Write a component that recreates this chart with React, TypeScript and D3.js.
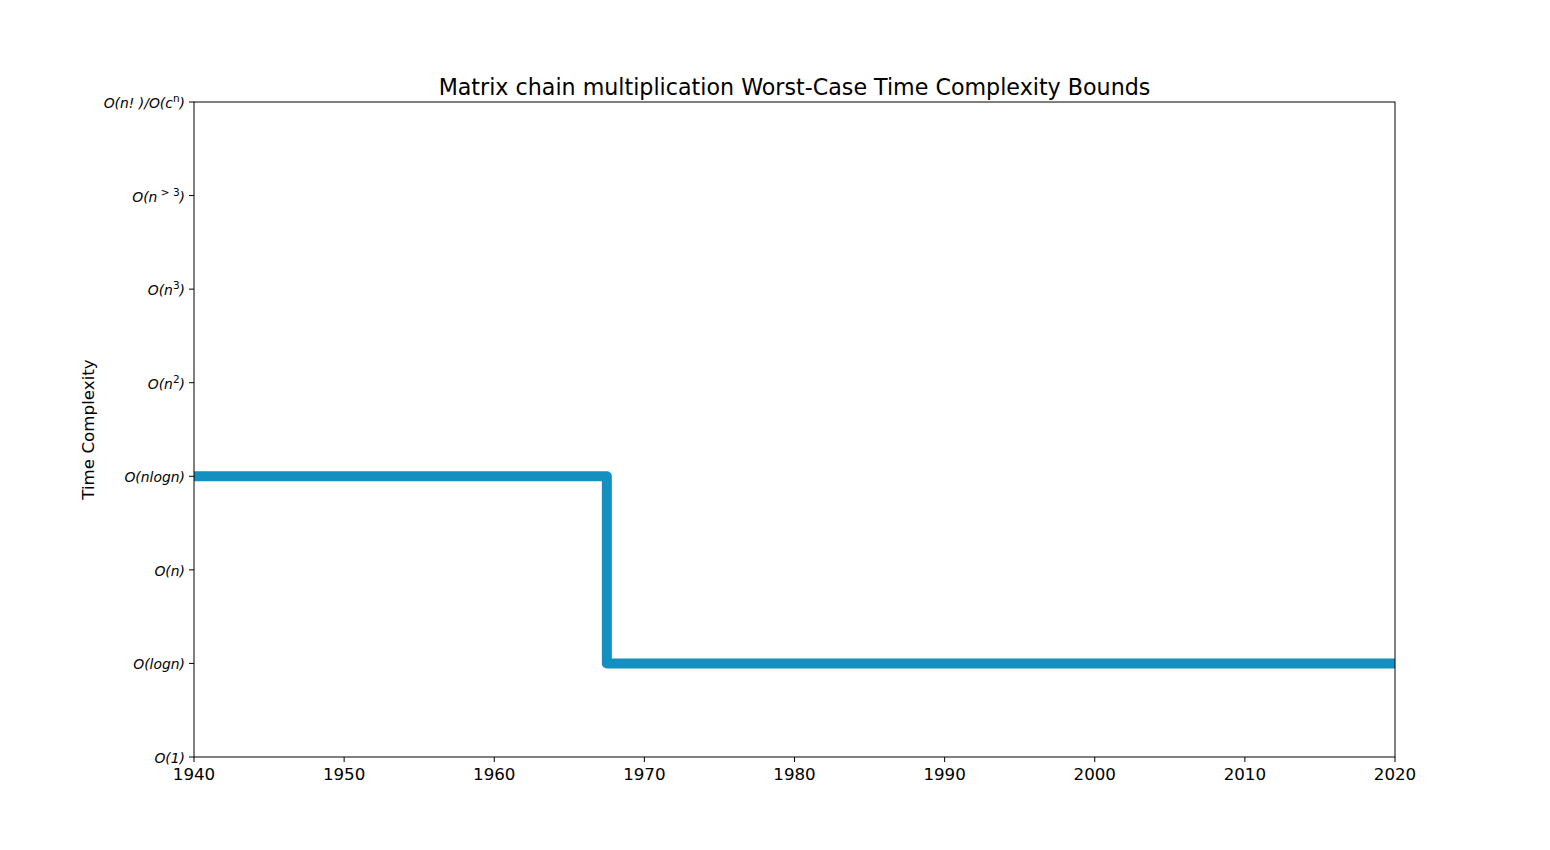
import React from "react";
import * as d3 from "d3";

const years = [1940, 1967.5, 2020];
const levels = [3, 1, 1];
const xTicks = [1940, 1950, 1960, 1970, 1980, 1990, 2000, 2010, 2020];
const yTickLabels: { base: string; sup?: string; tail?: string }[] = [
  { base: "O(1)" },
  { base: "O(logn)" },
  { base: "O(n)" },
  { base: "O(nlogn)" },
  { base: "O(n", sup: "2", tail: ")" },
  { base: "O(n", sup: "3", tail: ")" },
  { base: "O(n", sup: " > 3", tail: ")" },
  { base: "O(n! )/O(c", sup: "n", tail: ")" },
];
const title = "Matrix chain multiplication Worst-Case Time Complexity Bounds";
const yLabel = "Time Complexity";

const W = 1550, H = 850;
const M = { left: 194, right: 1395, top: 102, bottom: 757 };

export default function App() {
  const x = d3.scaleLinear().domain([1940, 2020]).range([M.left, M.right]);
  const y = d3.scaleLinear().domain([0, 7]).range([M.bottom, M.top]);
  const pts = years.map((yr, i) => [yr, levels[i]] as [number, number]);
  const line = d3
    .line<[number, number]>()
    .x((d) => x(d[0]))
    .y((d) => y(d[1]))
    .curve(d3.curveStepAfter);
  const font = "DejaVu Sans, sans-serif";
  return (
    <svg width={W} height={H} style={{ position: "absolute", left: 0, top: 0 }} fontFamily={font}>
      <rect width={W} height={H} fill="#fff" />
      <defs>
        <clipPath id="plot">
          <rect x={M.left} y={M.top} width={M.right - M.left} height={M.bottom - M.top} />
        </clipPath>
      </defs>
      <text x={(M.left + M.right) / 2} y={95} textAnchor="middle" fontSize={22.2} fill="#000">
        {title}
      </text>
      <path
        d={line(pts) || ""}
        fill="none"
        stroke="#1390bf"
        strokeWidth={10}
        strokeLinejoin="round"
        strokeLinecap="round"
        clipPath="url(#plot)"
      />
      <rect
        x={M.left}
        y={M.top}
        width={M.right - M.left}
        height={M.bottom - M.top}
        fill="none"
        stroke="#000"
        strokeWidth={1}
      />
      {xTicks.map((t) => (
        <g key={t}>
          <line x1={x(t)} x2={x(t)} y1={M.bottom} y2={M.bottom + 5} stroke="#000" />
          <text x={x(t)} y={780} textAnchor="middle" fontSize={16.7} fill="#000">
            {t}
          </text>
        </g>
      ))}
      {yTickLabels.map((lab, i) => (
        <g key={i}>
          <line x1={M.left - 5} x2={M.left} y1={y(i)} y2={y(i)} stroke="#000" />
          <text x={M.left - 9} y={y(i) + 6} textAnchor="end" fontSize={13.9} fontStyle="italic" fill="#000" xmlSpace="preserve">
            {lab.base}
            {lab.sup !== undefined && (
              <tspan fontSize={10.5} fontStyle="normal" dy={-6}>
                {lab.sup}
              </tspan>
            )}
            {lab.tail !== undefined && <tspan dy={6}>{lab.tail}</tspan>}
          </text>
        </g>
      ))}
      <text
        transform={`translate(94, ${(M.top + M.bottom) / 2}) rotate(-90)`}
        textAnchor="middle"
        fontSize={16.7}
        fill="#000"
      >
        {yLabel}
      </text>
    </svg>
  );
}
